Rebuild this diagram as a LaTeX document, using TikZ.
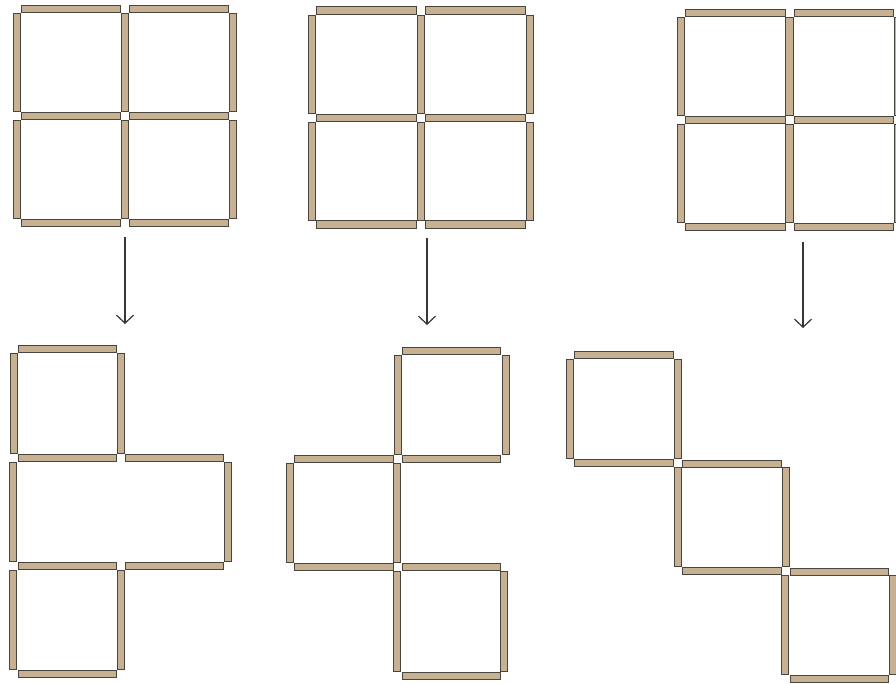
\documentclass[tikz,border=0pt]{standalone}
\usetikzlibrary{arrows.meta}
\definecolor{matchfill}{RGB}{200,177,147}
\definecolor{matchedge}{RGB}{72,68,62}
\definecolor{arrowgray}{RGB}{55,55,55}
\tikzset{
  stick/.style={fill=matchfill,draw=matchedge,line width=0.9pt},
  downarrow/.style={draw=arrowgray,line width=1.3pt,-{Straight Barb[length=8pt,width=17pt,line width=1.2pt]}}
}
\newcommand{\hstick}[3]{\draw[stick] ({#1+4.5},{#3-3.8}) rectangle ({#2-4.5},{#3+3.8});}
\newcommand{\vstick}[3]{\draw[stick] ({#1-3.8},{#2+4.5}) rectangle ({#1+3.8},{#3-4.5});}
\newcommand{\gridtwo}[6]{%
  % #1,#2,#3 = x; #4,#5,#6 = y
  \hstick{#1}{#2}{#4}\hstick{#2}{#3}{#4}%
  \hstick{#1}{#2}{#5}\hstick{#2}{#3}{#5}%
  \hstick{#1}{#2}{#6}\hstick{#2}{#3}{#6}%
  \vstick{#1}{#4}{#5}\vstick{#2}{#4}{#5}\vstick{#3}{#4}{#5}%
  \vstick{#1}{#5}{#6}\vstick{#2}{#5}{#6}\vstick{#3}{#5}{#6}%
}
\begin{document}
\begin{tikzpicture}[x=1pt,y=-1pt]
\useasboundingbox (0,0) rectangle (896,684);
\clip (0,0) rectangle (896,684);
\fill[white] (0,0) rectangle (896,684);

% top 2x2 grids
\gridtwo{17}{125}{233}{9}{116}{223}
\gridtwo{312}{421}{530}{10.5}{118}{224.5}
\gridtwo{681}{789.5}{898}{13}{120}{227}

% arrows
\coordinate (a1s) at (125,237); \coordinate (a1e) at (125,324);
\coordinate (a2s) at (427,238); \coordinate (a2e) at (427,325);
\coordinate (a3s) at (803,242); \coordinate (a3e) at (803,328);
\draw[downarrow] (a1s) -- (a1e);
\draw[downarrow] (a2s) -- (a2e);
\draw[downarrow] (a3s) -- (a3e);

% bottom left: square, rectangle, square
\hstick{14}{121}{349}
\hstick{14}{121}{458}\hstick{121}{228}{458}
\hstick{14}{121}{566}\hstick{121}{228}{566}
\hstick{14}{121}{674}
\vstick{14}{349}{458}\vstick{121}{349}{458}
\vstick{13}{458}{566}\vstick{228}{458}{566}
\vstick{13}{566}{674}\vstick{121}{566}{674}

% bottom middle
\hstick{398}{505}{351}
\hstick{290}{398}{459}\hstick{398}{505}{459}
\hstick{290}{398}{567}\hstick{398}{505}{567}
\hstick{398}{505}{676}
\vstick{398}{351}{459}\vstick{506}{351}{459}
\vstick{290}{459}{567}\vstick{397}{459}{567}
\vstick{397}{567}{676}\vstick{504}{567}{676}

% bottom right: staircase
\hstick{570}{678}{355}
\hstick{570}{678}{463}\hstick{678}{786}{464}
\hstick{678}{786}{571}\hstick{786}{893}{572}
\hstick{786}{893}{679}
\vstick{570}{355}{463}\vstick{678}{355}{463}
\vstick{678}{463}{571}\vstick{786}{463}{571}
\vstick{785}{571}{679}\vstick{893}{571}{679}
\end{tikzpicture}
\end{document}
